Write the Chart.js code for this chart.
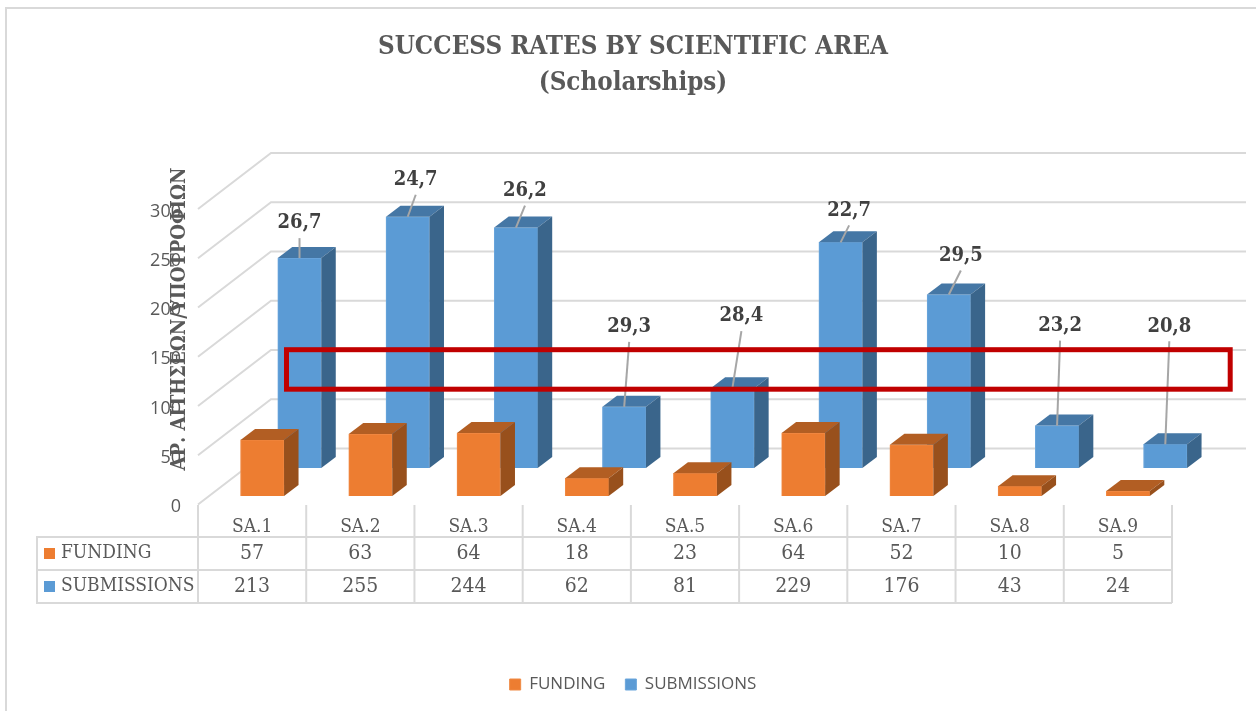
<!DOCTYPE html>
<html>
<head>
<meta charset="utf-8">
<title>Success rates by scientific area</title>
<script src="https://cdn.jsdelivr.net/npm/chart.js@4/dist/chart.umd.min.js"></script>
<style>
  html, body { margin: 0; padding: 0; background: #fff; overflow: hidden; }
  #wrap { width: 1256px; height: 711px; }
</style>
</head>
<body>
<div id="wrap"><canvas id="graph" width="1256" height="711"></canvas></div>
<script>
var categories = ['SA.1', 'SA.2', 'SA.3', 'SA.4', 'SA.5', 'SA.6', 'SA.7', 'SA.8', 'SA.9'];
var funding = [57, 63, 64, 18, 23, 64, 52, 10, 5];
var submissions = [213, 255, 244, 62, 81, 229, 176, 43, 24];
var successRates = ['26,7', '24,7', '26,2', '29,3', '28,4', '22,7', '29,5', '23,2', '20,8'];
var yTickStep = 50;
var yMax = 300;

var serif = '"DejaVu Serif Condensed", "DejaVu Serif", serif';
var textGrey = '#595959';
var lineGrey = '#d9d9d9';

// 3d look: how far the bar depth and the back wall go, in pixels
var barDepth = { x: 14.5, y: 11 };
var wallDepth = { x: 73, y: 56 };
var wallRight = 1246;

// hand placed data labels in the original, offset from the middle of the bar top
var labelShift = [[0, -35], [8, -37], [9, -37], [5, -80], [9, -72], [8.5, -32], [12, -39], [3, -100], [4, -118]];

function pointsOf(ctx, pts, color) {
    ctx.fillStyle = color;
    ctx.beginPath();
    pts.forEach(function (p, i) {
        if (i == 0) ctx.moveTo(p[0], p[1]);
        else ctx.lineTo(p[0], p[1]);
    });
    ctx.closePath();
    ctx.fill();
}

function hLine(ctx, x1, y1, x2, y2) {
    ctx.beginPath();
    ctx.moveTo(x1, y1);
    ctx.lineTo(x2, y2);
    ctx.stroke();
}

var frame3d = {
    id: 'frame3d',
    beforeDraw: function (chart) {
        var ctx = chart.ctx;
        ctx.save();
        ctx.strokeStyle = lineGrey;
        ctx.lineWidth = 2;
        ctx.beginPath();
        ctx.moveTo(6, 711);
        ctx.lineTo(6, 8);
        ctx.lineTo(1256, 8);
        ctx.stroke();
        ctx.restore();
    },
    // back wall grid, from the y scale ticks
    beforeDatasetsDraw: function (chart) {
        var ctx = chart.ctx;
        var y = chart.scales.y;
        ctx.save();
        ctx.strokeStyle = lineGrey;
        ctx.lineWidth = 2;
        y.ticks.forEach(function (t) {
            var py = y.getPixelForValue(t.value);
            ctx.beginPath();
            ctx.moveTo(y.right, py);
            ctx.lineTo(y.right + wallDepth.x, py - wallDepth.y);
            ctx.lineTo(wallRight, py - wallDepth.y);
            ctx.stroke();
        });
        ctx.restore();
    },
    // side and top faces, right after the front faces of the same dataset
    afterDatasetDraw: function (chart, args) {
        var ctx = chart.ctx;
        var ds = chart.data.datasets[args.index];
        ctx.save();
        args.meta.data.forEach(function (bar) {
            var p = bar.getProps(['x', 'y', 'base', 'width'], true);
            var l = p.x - p.width / 2;
            var r = p.x + p.width / 2;
            pointsOf(ctx, [[l, p.y], [l + barDepth.x, p.y - barDepth.y], [r + barDepth.x, p.y - barDepth.y], [r, p.y]], ds.topColor);
            pointsOf(ctx, [[r, p.y], [r + barDepth.x, p.y - barDepth.y], [r + barDepth.x, p.base - barDepth.y], [r, p.base]], ds.sideColor);
        });
        ctx.restore();
    },
    afterDatasetsDraw: function (chart) {
        var ctx = chart.ctx;
        drawRates(chart, ctx);
        drawTable(chart, ctx);
        drawAxisTitle(ctx);
        // red highlight box
        ctx.save();
        ctx.strokeStyle = '#c00000';
        ctx.lineWidth = 5;
        ctx.strokeRect(286.5, 349.7, 943.7, 39.5);
        ctx.restore();
    }
};

function drawRates(chart, ctx) {
    var bars = chart.getDatasetMeta(1).data;
    ctx.save();
    ctx.textAlign = 'center';
    ctx.textBaseline = 'middle';
    ctx.font = 'bold 20px ' + serif;
    successRates.forEach(function (rate, i) {
        var topX = bars[i].x;
        var topY = bars[i].y;
        var lx = topX + labelShift[i][0];
        var ly = topY + labelShift[i][1];
        ctx.strokeStyle = '#a6a6a6';
        ctx.lineWidth = 2;
        hLine(ctx, lx, ly + 15, topX, topY);
        ctx.fillStyle = '#404040';
        ctx.fillText(rate, lx, ly);
    });
    ctx.restore();
}

function drawTable(chart, ctx) {
    var x = chart.scales.x;
    var rows = [
        { name: 'FUNDING', values: funding, color: chart.data.datasets[0].backgroundColor, y: 553.5 },
        { name: 'SUBMISSIONS', values: submissions, color: chart.data.datasets[1].backgroundColor, y: 586.5 }
    ];
    var step = (x.right - x.left) / categories.length;
    ctx.save();
    ctx.strokeStyle = lineGrey;
    ctx.lineWidth = 2;
    for (var i = 0; i <= categories.length; i++) {
        var lineX = x.left + i * step;
        hLine(ctx, lineX, 505, lineX, 603);
    }
    hLine(ctx, 37, 537, x.right, 537);
    hLine(ctx, 37, 570, x.right, 570);
    hLine(ctx, 37, 603, x.right, 603);
    hLine(ctx, 37, 536, 37, 604);

    ctx.textBaseline = 'middle';
    rows.forEach(function (row) {
        ctx.fillStyle = row.color;
        ctx.fillRect(44, row.y - 5.5, 11, 11);
        ctx.fillStyle = textGrey;
        ctx.textAlign = 'left';
        ctx.font = '19px ' + serif;
        ctx.fillText(row.name, 61, row.y);
        ctx.textAlign = 'center';
        ctx.font = '21px ' + serif;
        row.values.forEach(function (v, i) {
            ctx.fillText(String(v), x.getPixelForValue(i), row.y);
        });
    });
    ctx.restore();
}

function drawAxisTitle(ctx) {
    ctx.save();
    ctx.translate(180, 319);
    ctx.rotate(-Math.PI / 2);
    ctx.textAlign = 'center';
    ctx.textBaseline = 'middle';
    ctx.font = 'bold 20px ' + serif;
    ctx.fillStyle = textGrey;
    ctx.fillText('ΑΡ. ΑΙΤΗΣΕΩΝ/ΥΠΟΤΡΟΦΙΩΝ', 0, 0);
    ctx.restore();
}

function pointsFor(values) {
    return values.map(function (v, i) { return { x: i, y: v }; });
}

var data = {
    labels: categories,
    datasets: [{
        label: 'FUNDING',
        data: pointsFor(funding),
        backgroundColor: '#ed7d31',
        borderColor: '#f08a44',
        borderWidth: 1,
        topColor: '#b25e23',
        sideColor: '#98501c',
        barThickness: 43.5,
        grouped: false,
        clip: false,
        xAxisID: 'xFunding',
        yAxisID: 'yFunding'
    }, {
        label: 'SUBMISSIONS',
        data: pointsFor(submissions),
        backgroundColor: '#5b9bd5',
        borderColor: '#6ba6dc',
        borderWidth: 1,
        topColor: '#4577a5',
        sideColor: '#3a658b',
        barThickness: 43.5,
        grouped: false,
        clip: false,
        xAxisID: 'xSubmissions',
        yAxisID: 'ySubmissions'
    }]
};

var options = {
    responsive: false,
    animation: false,
    layout: { padding: { left: 94, right: 84, top: 0, bottom: 8 } },
    plugins: {
        title: {
            display: true,
            text: ['SUCCESS RATES BY SCIENTIFIC AREA', '(Scholarships)'],
            color: textGrey,
            font: { family: serif, size: 25.7, weight: 'bold', lineHeight: 1.4 },
            padding: { top: 29, bottom: 108 }
        },
        legend: {
            position: 'bottom',
            labels: {
                boxWidth: 11,
                boxHeight: 11,
                color: textGrey,
                padding: 20,
                font: { family: '"Open Sans", sans-serif', size: 17 }
            }
        },
        tooltip: { enabled: false }
    },
    scales: {
        x: {
            type: 'category',
            offset: true,
            position: 'bottom',
            grid: { display: false },
            border: { display: false },
            ticks: { color: textGrey, padding: 3, maxRotation: 0, font: { family: serif, size: 19 } },
            afterFit: function (scale) { scale.height = 151.5; }
        },
        y: {
            type: 'linear',
            position: 'left',
            min: 0,
            max: yMax,
            grid: { display: false },
            border: { display: false },
            ticks: { stepSize: yTickStep, color: textGrey, padding: 9, labelOffset: 2.5, font: { family: '"Open Sans", sans-serif', size: 18 } },
            afterFit: function (scale) { scale.width = 104; }
        },
        // the two rows of bars stand at different depths, so each gets scales shifted off the front ones
        xFunding: { type: 'linear', axis: 'x', display: false, offset: false, min: -0.594, max: 8.406 },
        xSubmissions: { type: 'linear', axis: 'x', display: false, offset: false, min: -0.938, max: 8.062 },
        yFunding: { type: 'linear', axis: 'y', display: false, min: -8.6, max: 291.4 },
        ySubmissions: { type: 'linear', axis: 'y', display: false, min: -37.1, max: 262.9 }
    }
};

var graph = new Chart(document.getElementById('graph').getContext('2d'), {
    type: 'bar',
    data: data,
    options: options,
    plugins: [frame3d]
});
</script>
</body>
</html>
